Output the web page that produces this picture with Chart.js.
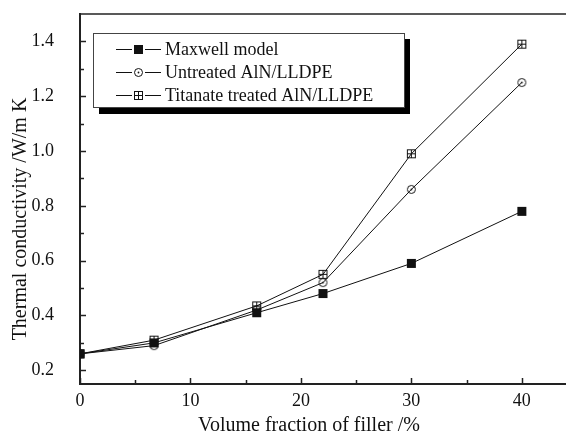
<!DOCTYPE html>
<html>
<head>
<meta charset="utf-8">
<script src="https://cdn.jsdelivr.net/npm/chart.js@4.4.1/dist/chart.umd.min.js"></script>
<style>
  html, body { margin: 0; padding: 0; background: #fff; }
</style>
</head>
<body>
<canvas id="grafico" width="566" height="435"></canvas>
<script>
// Datos
const fraccion = [0, 6.7, 16, 22, 30, 40];
const maxwell = [0.26, 0.30, 0.41, 0.48, 0.59, 0.78];
const sinTratar = [0.26, 0.29, 0.42, 0.52, 0.86, 1.25];
const titanato = [0.26, 0.31, 0.435, 0.55, 0.99, 1.39];
const nombres = ["Maxwell model", "Untreated AlN/LLDPE", "Titanate treated AlN/LLDPE"];
const ticksX = [0, 10, 20, 30, 40];
const ticksY = [0.2, 0.4, 0.6, 0.8, 1.0, 1.2, 1.4];
const tituloX = "Volume fraction of filler /%";
const tituloY = "Thermal conductivity /W/m K";

const FUENTE = '"Liberation Serif", "Times New Roman", serif';
const TINTA = "#111";

// marcadores dibujados a mano en canvas pequeños
function marcador(tipo) {
  const c = document.createElement("canvas");
  c.width = 11; c.height = 11;
  const g = c.getContext("2d");
  g.strokeStyle = TINTA; g.fillStyle = TINTA; g.lineWidth = 1;
  if (tipo === "cuadrado") {
    g.fillRect(1, 1, 9, 9);
  } else if (tipo === "circulo") {
    g.beginPath(); g.arc(5.5, 5.5, 4, 0, Math.PI * 2); g.stroke();
    g.beginPath(); g.arc(5.5, 5.5, 0.9, 0, Math.PI * 2); g.fill();
  } else {
    g.strokeRect(1.5, 1.5, 8, 8);
    g.beginPath();
    g.moveTo(5.5, 1.5); g.lineTo(5.5, 9.5);
    g.moveTo(1.5, 5.5); g.lineTo(9.5, 5.5);
    g.stroke();
  }
  return c;
}
const marcas = [marcador("cuadrado"), marcador("circulo"), marcador("cruz")];

function serie(valores, i) {
  return {
    label: nombres[i],
    data: fraccion.map((x, k) => ({ x: x, y: valores[k] })),
    borderColor: TINTA,
    borderWidth: 1,
    pointStyle: marcas[i],
    pointRadius: 5,
    tension: 0
  };
}

const decoracion = {
  id: "decoracion",
  afterDraw(chart) {
    const { ctx, chartArea: a, scales: { x, y } } = chart;
    ctx.save();
    ctx.strokeStyle = "#222";
    ctx.lineWidth = 1.5;
    const linea = (x1, y1, x2, y2) => { ctx.beginPath(); ctx.moveTo(x1, y1); ctx.lineTo(x2, y2); ctx.stroke(); };

    // marco superior
    linea(a.left, a.top, a.right, a.top);

    // marcas de escala hacia dentro
    for (let v = 0; v <= x.max; v += 5) {
      const px = Math.round(x.getPixelForValue(v)) + 0.5;
      linea(px, a.bottom, px, a.bottom - (v % 10 === 0 ? 6 : 4));
    }
    for (let k = 2; k <= 14; k++) {
      const py = Math.round(y.getPixelForValue(k / 10)) + 0.5;
      linea(a.left, py, a.left + (k % 2 === 0 ? 6 : 4), py);
    }

    // títulos de ejes
    ctx.fillStyle = TINTA;
    ctx.font = "20px " + FUENTE;
    ctx.textAlign = "center";
    ctx.textBaseline = "middle";
    ctx.fillText(tituloX, 309, 426);
    ctx.save();
    ctx.translate(21, 219);
    ctx.rotate(-Math.PI / 2);
    ctx.fillText(tituloY, 0, 0);
    ctx.restore();

    // leyenda con sombra
    ctx.fillStyle = "#000";
    ctx.fillRect(99, 39, 311, 75);
    ctx.fillStyle = "#fff";
    ctx.fillRect(93, 33, 312, 75);
    ctx.strokeStyle = "#444";
    ctx.lineWidth = 1;
    ctx.strokeRect(93.5, 33.5, 311, 74);

    const filas = [49, 72, 95];
    ctx.strokeStyle = TINTA;
    ctx.font = "18px " + FUENTE;
    ctx.textAlign = "left";
    filas.forEach((fy, i) => {
      linea(116, fy + 0.5, 132, fy + 0.5);
      linea(145, fy + 0.5, 161, fy + 0.5);
      ctx.drawImage(marcas[i], 133, fy - 5);
      ctx.fillStyle = TINTA;
      ctx.fillText(nombres[i], 165, fy + 1);
    });
    ctx.restore();
  }
};

new Chart(document.getElementById("grafico"), {
  type: "line",
  data: {
    datasets: [serie(maxwell, 0), serie(sinTratar, 1), serie(titanato, 2)]
  },
  options: {
    responsive: false,
    animation: false,
    devicePixelRatio: 1,
    layout: { autoPadding: false, padding: { top: 14, right: 0, left: 0, bottom: 0 } },
    plugins: { legend: { display: false }, tooltip: { enabled: false } },
    scales: {
      x: {
        type: "linear",
        min: 0,
        max: 44,
        afterBuildTicks: s => { s.ticks = ticksX.map(v => ({ value: v })); },
        afterFit: s => { s.height = 51; s.paddingLeft = 0; s.paddingRight = 0; },
        grid: { display: false },
        border: { display: true, color: "#222", width: 2 },
        ticks: { color: TINTA, font: { family: FUENTE, size: 18 }, padding: -2, maxRotation: 0 }
      },
      y: {
        type: "linear",
        min: 0.15,
        max: 1.5,
        afterBuildTicks: s => { s.ticks = ticksY.map(v => ({ value: v })); },
        afterFit: s => { s.width = 80; s.paddingTop = 0; s.paddingBottom = 0; },
        grid: { display: false },
        border: { display: true, color: "#222", width: 2 },
        ticks: { color: TINTA, font: { family: FUENTE, size: 18 }, padding: 18, callback: v => v.toFixed(1) }
      }
    }
  },
  plugins: [decoracion]
});
</script>
</body>
</html>
